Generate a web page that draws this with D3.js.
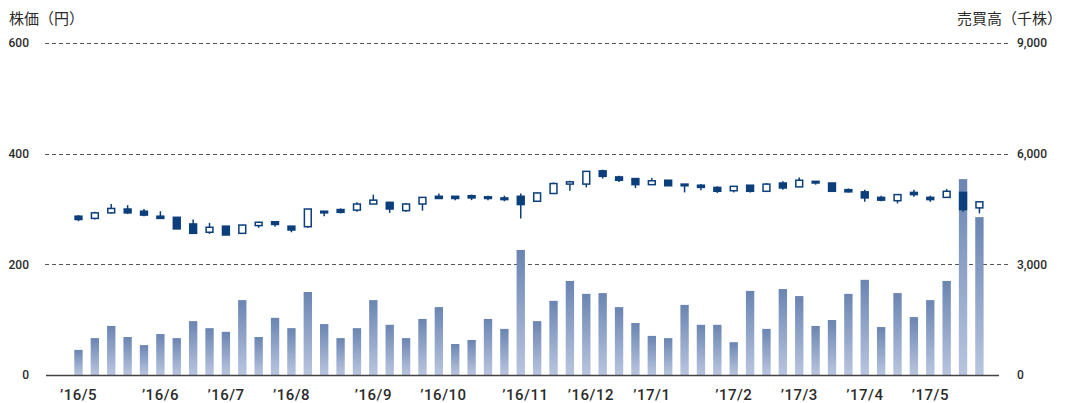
<!DOCTYPE html>
<html>
<head>
<meta charset="utf-8">
<script src="https://cdn.jsdelivr.net/npm/d3@7"></script>
<style>
  body { margin: 0; background: #fff; }
  svg text { font-family: Roboto, "Noto Sans CJK JP", sans-serif; fill: #2b2b2b; }
</style>
</head>
<body>
<div id="chart"></div>
<script>
// weekly data, '16/5 - '17/5
const weeks = [
  '2016-05-02','2016-05-09','2016-05-16','2016-05-23','2016-05-30',
  '2016-06-06','2016-06-13','2016-06-20','2016-06-27',
  '2016-07-04','2016-07-11','2016-07-18','2016-07-25',
  '2016-08-01','2016-08-08','2016-08-15','2016-08-22','2016-08-29',
  '2016-09-05','2016-09-12','2016-09-19','2016-09-26',
  '2016-10-03','2016-10-10','2016-10-17','2016-10-24','2016-10-31',
  '2016-11-07','2016-11-14','2016-11-21','2016-11-28',
  '2016-12-05','2016-12-12','2016-12-19','2016-12-26',
  '2017-01-02','2017-01-09','2017-01-16','2017-01-23','2017-01-30',
  '2017-02-06','2017-02-13','2017-02-20','2017-02-27',
  '2017-03-06','2017-03-13','2017-03-20','2017-03-27',
  '2017-04-03','2017-04-10','2017-04-17','2017-04-24',
  '2017-05-01','2017-05-08','2017-05-15','2017-05-22'
];
const open  = [287,283,293,300,296,287,285,273,258,269,256,270,277,269,268,296,299,298,309,312,297,309,323,323,324,322,320,323,314,328,345,345,369,358,355,344,352,345,343,339,333,343,332,347,340,350,347,335,331,321,315,330,321,321,330,302];
const high  = [289,295,309,307,300,296,285,281,275,269,271,277,277,269,300,296,301,312,326,313,311,321,328,323,326,324,324,328,330,348,351,368,371,360,355,356,352,345,345,341,341,343,347,350,357,350,347,337,335,324,326,335,324,336,330,313];
const low   = [278,281,292,291,287,283,264,256,255,253,256,266,268,258,266,287,292,295,309,293,295,297,319,316,316,316,314,283,313,328,333,339,355,349,338,344,342,330,334,329,330,330,332,335,340,344,332,330,313,314,310,322,313,321,295,292];
const close = [281,293,301,293,289,283,264,256,267,253,271,276,272,262,300,293,294,309,316,300,309,321,319,319,320,319,317,308,329,346,349,368,359,352,344,351,342,342,339,332,341,332,345,338,352,347,332,331,320,316,326,326,317,332,299,313];
// 売買高 (千株)
const volume = [680,1000,1330,1030,810,1110,1000,1460,1270,1170,2030,1030,1550,1270,2250,1380,1000,1270,2030,1360,1000,1520,1840,840,950,1520,1250,3390,1460,2010,2550,2200,2220,1840,1410,1060,1000,1900,1360,1360,890,2280,1250,2330,2140,1330,1490,2200,2580,1300,2220,1570,2030,2550,5310,4280];

const monthLabels = ['’16/5','’16/6','’16/7','’16/8','’16/9','’16/10','’16/11','’16/12','’17/1','’17/2','’17/3','’17/4','’17/5'];
const priceTicks = [0, 200, 400, 600];
const volumeTicks = [0, 3000, 6000, 9000];

const W = 1065, H = 403;
const plotTop = 43, plotBottom = 375;
const dark = '#0b3f7c';

const svg = d3.select('#chart').append('svg')
  .attr('width', W).attr('height', H);

const defs = svg.append('defs');
const grad = defs.append('linearGradient')
  .attr('id', 'volGrad')
  .attr('x1', 0).attr('y1', 0).attr('x2', 0).attr('y2', 1);
grad.append('stop').attr('offset', '0%').attr('stop-color', '#6a85b2');
grad.append('stop').attr('offset', '100%').attr('stop-color', '#b9c5df');

const x = d3.scaleBand()
  .domain(weeks)
  .range([74.3, 983.6])
  .paddingInner(0.49)
  .paddingOuter(0);
const yP = d3.scaleLinear().domain([0, 600]).range([plotBottom, plotTop]);
const yV = d3.scaleLinear().domain([0, 9000]).range([plotBottom, plotTop]);

// grid lines
svg.append('g')
  .selectAll('line')
  .data(priceTicks.filter(d => d > 0))
  .join('line')
  .attr('x1', 45).attr('x2', 1010)
  .attr('y1', d => Math.round(yP(d)) + 0.5)
  .attr('y2', d => Math.round(yP(d)) + 0.5)
  .attr('stroke', '#555')
  .attr('stroke-width', 1)
  .attr('stroke-dasharray', '4,3');

// volume bars
svg.append('g')
  .selectAll('rect')
  .data(volume)
  .join('rect')
  .attr('x', (d, i) => x(weeks[i]))
  .attr('width', x.bandwidth())
  .attr('y', d => yV(d))
  .attr('height', d => plotBottom - yV(d))
  .attr('fill', 'url(#volGrad)');

// base line
svg.append('line')
  .attr('x1', 46).attr('x2', 999)
  .attr('y1', plotBottom + 0.5).attr('y2', plotBottom + 0.5)
  .attr('stroke', '#444').attr('stroke-width', 1.5);

// candles
const candles = svg.append('g')
  .selectAll('g')
  .data(weeks.map((w, i) => ({ w, o: open[i], h: high[i], l: low[i], c: close[i] })))
  .join('g');

candles.append('line')
  .attr('x1', d => x(d.w) + x.bandwidth() / 2)
  .attr('x2', d => x(d.w) + x.bandwidth() / 2)
  .attr('y1', d => yP(d.h))
  .attr('y2', d => yP(d.l))
  .attr('stroke', dark)
  .attr('stroke-width', 1.5);

candles.append('rect')
  .attr('x', d => x(d.w) + 0.75)
  .attr('width', x.bandwidth() - 1.5)
  .attr('y', d => yP(Math.max(d.o, d.c)))
  .attr('height', d => Math.max(1, Math.abs(yP(d.o) - yP(d.c))))
  .attr('fill', d => d.c < d.o ? dark : '#fff')
  .attr('stroke', dark)
  .attr('stroke-width', 1.5);

// left axis labels
svg.append('g')
  .selectAll('text')
  .data(priceTicks)
  .join('text')
  .attr('x', 29)
  .attr('y', d => yP(d))
  .attr('dy', '0.35em')
  .attr('text-anchor', 'end')
  .style('font-size', '12px')
  .style('font-weight', 500)
  .text(d => d3.format(',')(d));

// right axis labels
svg.append('g')
  .selectAll('text')
  .data(volumeTicks)
  .join('text')
  .attr('x', 1017)
  .attr('y', d => yV(d))
  .attr('dy', '0.35em')
  .attr('text-anchor', 'start')
  .style('font-size', '12px')
  .style('font-weight', 500)
  .text(d => d3.format(',')(d));

// month labels at the first week of each month
const firstWeeks = weeks.filter((w, i) => i === 0 || w.slice(5, 7) !== weeks[i - 1].slice(5, 7));
svg.append('g')
  .selectAll('text')
  .data(firstWeeks)
  .join('text')
  .attr('x', d => x(d) + x.bandwidth() / 2 - 18.5)
  .attr('y', 400)
  .style('font-size', '15px')
  .style('font-weight', 500)
  .style('letter-spacing', '0.5px')
  .text((d, i) => monthLabels[i]);

// titles
svg.append('text')
  .attr('x', 9).attr('y', 24)
  .style('font-size', '15px')
  .style('font-family', '"Noto Sans CJK JP", sans-serif')
  .text('株価（円）');
svg.append('text')
  .attr('x', 1062).attr('y', 24)
  .attr('text-anchor', 'end')
  .style('font-size', '15px')
  .style('font-family', '"Noto Sans CJK JP", sans-serif')
  .text('売買高（千株）');
</script>
</body>
</html>
